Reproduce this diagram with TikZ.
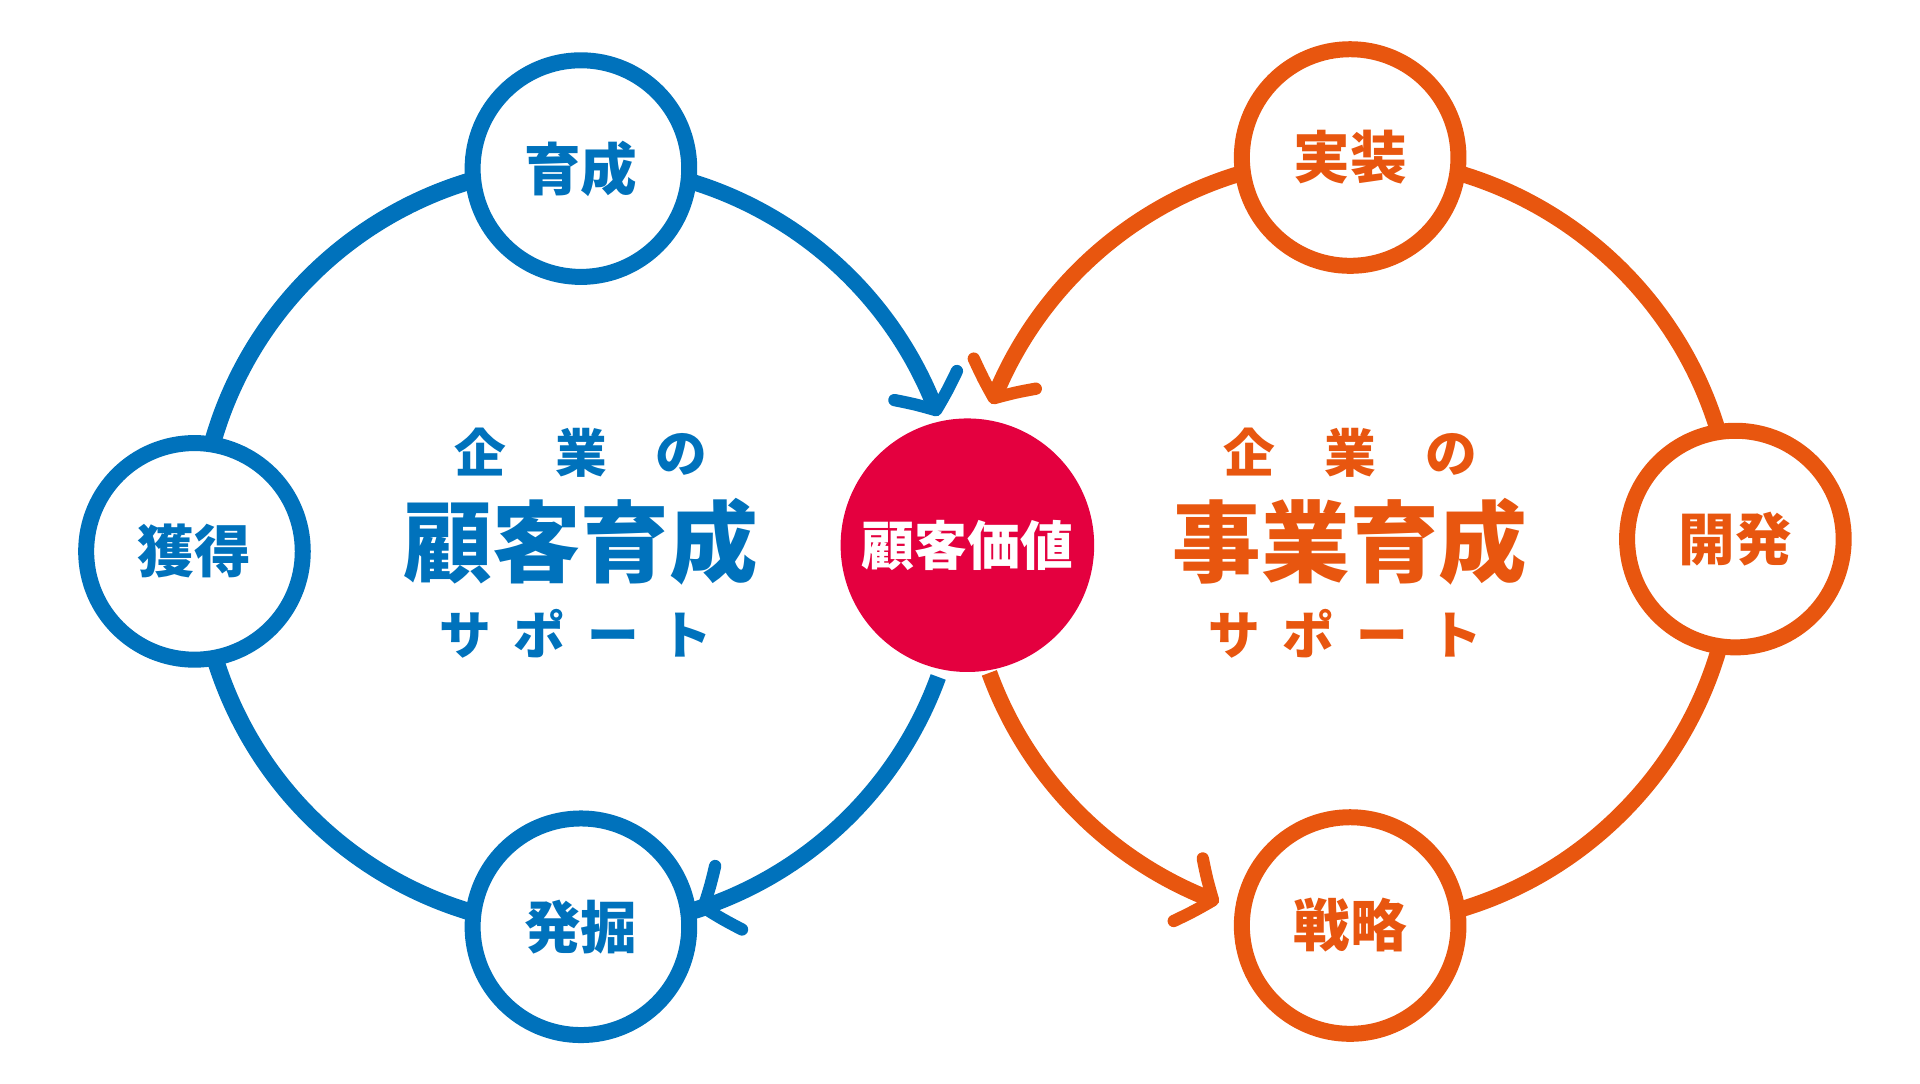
\documentclass[tikz,border=0pt]{standalone}
\usepackage{fontspec}
\newfontfamily\cjk{Noto Sans CJK JP}
\usetikzlibrary{arrows.meta,bending}
\definecolor{cb}{HTML}{0072BC}
\definecolor{co}{HTML}{E8560F}
\definecolor{cr}{HTML}{E4003F}
\tikzset{
 ring/.style={line width=14pt},
 arr/.style={line width=13pt,-{Straight Barb[length=22pt,width=56pt,line width=10pt,round,bend]}},
 small/.style={circle,draw=#1,line width=13pt,fill=white,minimum size=176pt,inner sep=0pt,text=#1,font=\cjk\bfseries\fontsize{46}{50}\selectfont},
 lbl/.style={text=#1,font=\cjk\bfseries\fontsize{42}{46}\selectfont},
 big/.style={text=#1,font=\cjk\bfseries\fontsize{72}{80}\selectfont},
}
\begin{document}
\begin{tikzpicture}[x=1pt,y=1pt]
\useasboundingbox (0,0) rectangle (1560,880);
\coordinate (L) at (471,436);
\coordinate (R) at (1097,440);
% left
\draw[cb,ring] ([shift={(291:310)}]L) arc[start angle=-69,end angle=-270,radius=310];
\draw[cb,arr] ([shift={(180:310)}]L) arc[start angle=180,end angle=20,radius=310];
\draw[cb,arr] ([shift={(-20:310)}]L) arc[start angle=-20,end angle=-72,radius=310];
% right
\draw[co,arr] ([shift={(-90:312)}]R) arc[start angle=-90,end angle=159,radius=312];
\draw[co,arr] ([shift={(200:312)}]R) arc[start angle=200,end angle=250,radius=312];
\node[small=cb] (a) at (472,743) {育成};
\node[small=cb] (b) at (158,432) {獲得};
\node[small=cb] (c) at (472,127) {発掘};
\node[small=co] (d) at (1097,752) {実装};
\node[small=co] (e) at (1410,442) {開発};
\node[small=co] (f) at (1097,128) {戦略};
\node[circle,fill=cr,minimum size=206pt,text=white,font=\cjk\bfseries\fontsize{43}{46}\selectfont] (m) at (786,437) {顧客価値};
\node[lbl=cb] (l1) at (472,512) {企\hspace{40pt}業\hspace{40pt}の};
\node[big=cb] (l2) at (472,440) {顧客育成};
\node[lbl=cb] (l3) at (468,365) {サ\hspace{18pt}ポ\hspace{18pt}ー\hspace{18pt}ト};
\node[lbl=co] (r1) at (1097,512) {企\hspace{40pt}業\hspace{40pt}の};
\node[big=co] (r2) at (1097,440) {事業育成};
\node[lbl=co] (r3) at (1093,365) {サ\hspace{18pt}ポ\hspace{18pt}ー\hspace{18pt}ト};
\end{tikzpicture}
\end{document}
